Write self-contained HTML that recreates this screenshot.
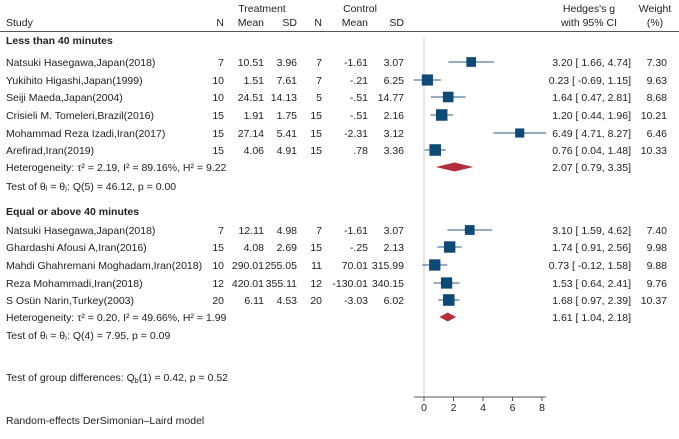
<!DOCTYPE html>
<html><head><meta charset="utf-8"><style>
body{margin:0;background:#fff}
svg text{font-family:"Liberation Sans",sans-serif;font-size:10.5px;fill:#222}
</style></head><body>
<svg id="c" width="679" height="434" viewBox="0 0 679 434">
<g id="hdr">
<text x="262" y="12" text-anchor="middle">Treatment</text>
<text x="360" y="12" text-anchor="middle">Control</text>
<text x="6" y="26">Study</text>
<text x="224" y="26" text-anchor="end">N</text>
<text x="264" y="26" text-anchor="end">Mean</text>
<text x="297" y="26" text-anchor="end">SD</text>
<text x="322" y="26" text-anchor="end">N</text>
<text x="368" y="26" text-anchor="end">Mean</text>
<text x="404" y="26" text-anchor="end">SD</text>
<text x="589" y="12" text-anchor="middle">Hedges's g</text>
<text x="589" y="26" text-anchor="middle">with 95% CI</text>
<text x="655" y="12" text-anchor="middle">Weight</text>
<text x="655" y="26" text-anchor="middle">(%)</text>
<line x1="0" y1="31.5" x2="679" y2="31.5" stroke="#555" stroke-width="1"/>
</g>
<g id="rows"></g>
</svg>
<script>
const studies=["Natsuki Hasegawa,Japan(2018)","Yukihito Higashi,Japan(1999)","Seiji Maeda,Japan(2004)","Crisieli M. Tomeleri,Brazil(2016)","Mohammad Reza Izadi,Iran(2017)","Arefirad,Iran(2019)","Natsuki Hasegawa,Japan(2018)","Ghardashi Afousi A,Iran(2016)","Mahdi Ghahremani Moghadam,Iran(2018)","Reza Mohammadi,Iran(2018)","S Osün Narin,Turkey(2003)"];
const tN=["7","10","10","15","15","15","7","15","10","12","20"];
const tMean=["10.51","1.51","24.51","1.91","27.14","4.06","12.11","4.08","290.01","420.01","6.11"];
const tSD=["3.96","7.61","14.13","1.75","5.41","4.91","4.98","2.69","255.05","355.11","4.53"];
const cN=["7","7","5","15","15","15","7","15","11","12","20"];
const cMean=["-1.61","-.21","-.51","-.51","-2.31",".78","-1.61","-.25","70.01","-130.01","-3.03"];
const cSD=["3.07","6.25","14.77","2.16","3.12","3.36","3.07","2.13","315.99","340.15","6.02"];
const g=[3.20,0.23,1.64,1.20,6.49,0.76,3.10,1.74,0.73,1.53,1.68];
const lo=[1.66,-0.69,0.47,0.44,4.71,0.04,1.59,0.91,-0.12,0.64,0.97];
const hi=[4.74,1.15,2.81,1.96,8.27,1.48,4.62,2.56,1.58,2.41,2.39];
const wt=[7.30,9.63,8.68,10.21,6.46,10.33,7.40,9.98,9.88,9.76,10.37];
const pooledG=[2.07,1.61], pooledLo=[0.79,1.04], pooledHi=[3.35,2.18];
const ticks=[0,2,4,6,8];
const rowY=[62,80,97,115,133,150,230,247,265,283,300];
const X=v=>424+v*14.75;
const NS="http://www.w3.org/2000/svg";
const R=document.getElementById('rows');
function el(t,a,txt){const e=document.createElementNS(NS,t);for(const k in a)e.setAttribute(k,a[k]);if(txt!==undefined)e.textContent=txt;R.appendChild(e);return e;}
function tx(x,y,s,anchor,bold){const e=el('text',{x:x,y:y,'text-anchor':anchor||'start'},s);if(bold)e.setAttribute('font-weight','bold');return e;}
const f=v=>v.toFixed(2);
const ci=(a,b,c)=>f(a)+" [ "+(b<0?"":" ")+f(b)+",  "+f(c)+"]";
const zl=el('line',{x1:X(0),y1:38,x2:X(0),y2:397,stroke:'#ccc','stroke-width':1});


let t=tx(6,44,"Less than 40 minutes",'start',true);


t=tx(6,215,"Equal or above 40 minutes",'start',true);


for(let i=0;i<studies.length;i++){
 const y=rowY[i];
 t=tx(6,y+4,studies[i]);
 
 
 tx(224,y+4,tN[i],'end');tx(264,y+4,tMean[i],'end');tx(297,y+4,tSD[i],'end');
 tx(322,y+4,cN[i],'end');tx(368,y+4,cMean[i],'end');tx(404,y+4,cSD[i],'end');
 const l=el('line',{x1:X(lo[i]),y1:y,x2:X(hi[i]),y2:y,stroke:'#2a5a80','stroke-width':1});
 
 
 const s=Math.sqrt(wt[i])*3.6;
 const r=el('rect',{x:X(g[i])-s/2,y:y-s/2,width:s,height:s,fill:'#0f4a75'});
 
 
 tx(631,y+4,ci(g[i],lo[i],hi[i]),'end');
 tx(667,y+4,f(wt[i]),'end');
}
const hy=[167,317], ty=[186,335];
const het=["Heterogeneity: τ² = 2.19, I² = 89.16%, H² = 9.22","Heterogeneity: τ² = 0.20, I² = 49.66%, H² = 1.99"];
const tst=["Test of θᵢ = θⱼ: Q(5) = 46.12, p = 0.00","Test of θᵢ = θⱼ: Q(4) = 7.95, p = 0.09"];
for(let k=0;k<2;k++){
 const y=hy[k];
 t=tx(6,y+4,het[k]);
 
 
 t=tx(6,ty[k]+4,tst[k]);
 
 
 const d=el('polygon',{points:`${X(pooledLo[k])},${y} ${X(pooledG[k])},${y-4.5} ${X(pooledHi[k])},${y} ${X(pooledG[k])},${y+4.5}`,fill:'#b0303e'});
 
 
 tx(631,y+4,ci(pooledG[k],pooledLo[k],pooledHi[k]),'end');
}
t=tx(6,381,"");


t.innerHTML='Test of group differences: Q<tspan font-size="7" dy="2">b</tspan><tspan dy="-2">(1) = 0.42, p = 0.52</tspan>';
t=tx(6,424,"Random-effects DerSimonian–Laird model");


const ax=el('line',{x1:414,y1:397,x2:546,y2:397,stroke:'#555','stroke-width':1});


for(const v of ticks){
 el('line',{x1:X(v),y1:397,x2:X(v),y2:401,stroke:'#555'});
 t=tx(X(v),411,String(v),'middle');
 
 
}
</script>
</body></html>
